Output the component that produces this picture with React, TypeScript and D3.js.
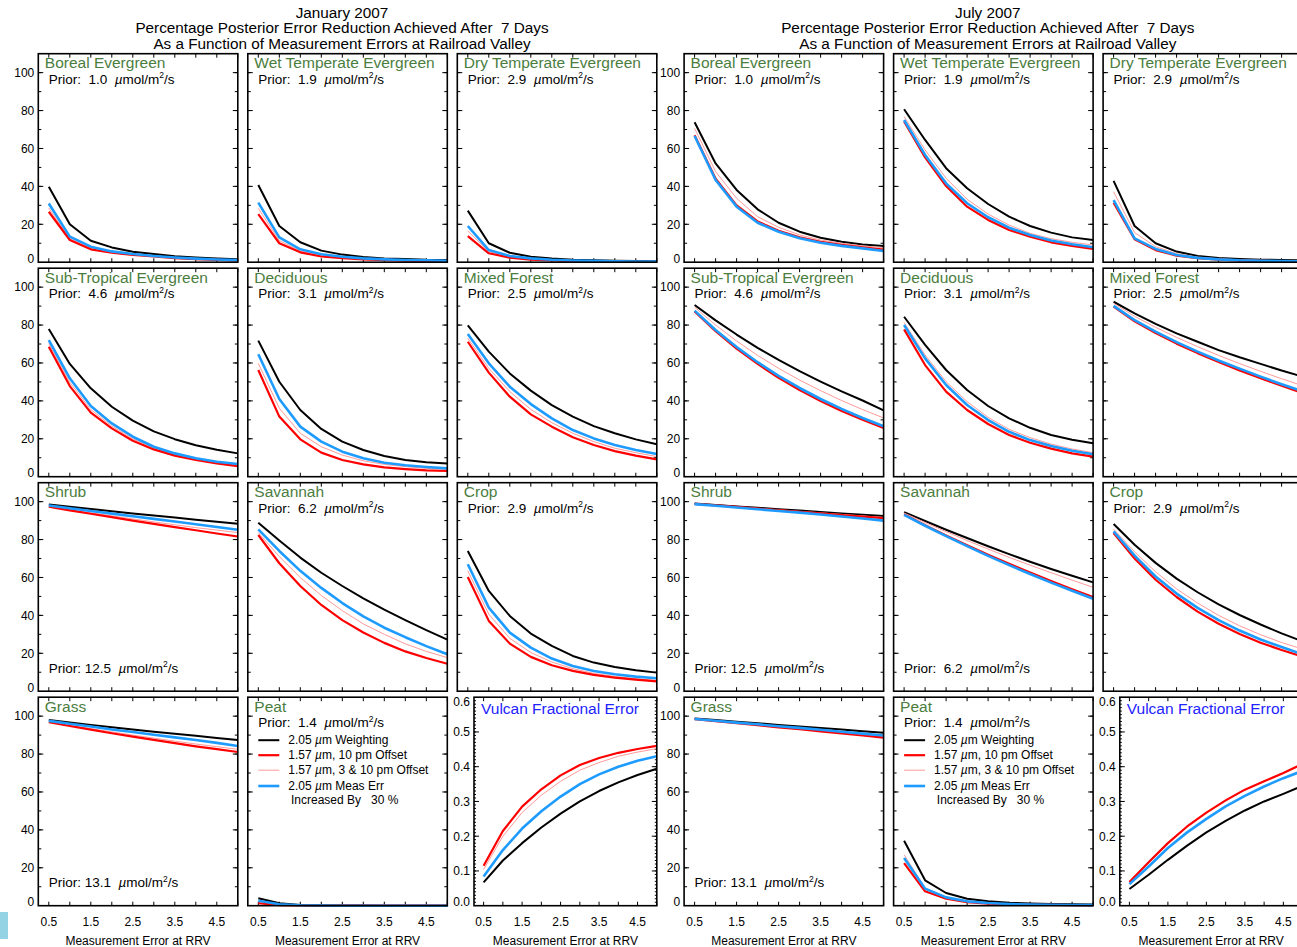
import React from 'react';
import * as d3 from 'd3';

// ---------- data ----------
const X_VALUES = [0.5, 1.0, 1.5, 2.0, 2.5, 3.0, 3.5, 4.0, 4.5, 5.0];
const X_TICK_LABELS = [0.5, 1.5, 2.5, 3.5, 4.5];
const X_TICKS = [0.5, 1.0, 1.5, 2.0, 2.5, 3.0, 3.5, 4.0, 4.5, 5.0];
const PCT_LABEL_TICKS = [0, 20, 40, 60, 80, 100];
const FRAC_LABEL_TICKS = [0, 0.1, 0.2, 0.3, 0.4, 0.5, 0.6];

const SERIES_NAMES = ['2.05 \u00b5m Weighting', '1.57 \u00b5m, 10 pm Offset', '1.57 \u00b5m, 3 & 10 pm Offset', '2.05 \u00b5m Meas Err'];
const SERIES_COLORS = ['#000000', '#ff0000', '#ff9a9a', '#1e9bff'];
const SERIES_WIDTHS = [2, 2.2, 1, 2.6];
const DRAW_ORDER = [0, 2, 1, 3];

const MONTH_TITLES = ['January 2007', 'July 2007'];
const SUBTITLE_1 = 'Percentage Posterior Error Reduction Achieved After\u00a0 7 Days';
const SUBTITLE_2 = 'As a Function of Measurement Errors at Railroad Valley';

const PANEL_NAMES = ['Boreal Evergreen', 'Wet Temperate Evergreen', 'Dry Temperate Evergreen', 'Sub-Tropical Evergreen', 'Deciduous', 'Mixed Forest', 'Shrub', 'Savannah', 'Crop', 'Grass', 'Peat'];
const PRIORS = [1.0, 1.9, 2.9, 4.6, 3.1, 2.5, 12.5, 6.2, 2.9, 13.1, 1.4];
const PRIOR_BOTTOM_JAN = [false, false, false, false, false, false, true, false, false, true, false];
const PRIOR_BOTTOM_JUL = [false, false, false, false, false, false, true, true, false, true, false];

// series order: [2.05 weighting (black), 1.57 10pm (red), 1.57 3&10pm (pink), 2.05 meas err +30% (blue)]
const janBoreal = [
  [39.8, 20.0, 11.3, 7.8, 5.5, 4.3, 3.2, 2.5, 2.0, 1.6],
  [26.6, 11.7, 6.8, 5.0, 3.8, 3.0, 2.2, 1.6, 1.2, 0.9],
  [28.6, 12.5, 7.4, 5.3, 4.0, 3.1, 2.3, 1.7, 1.3, 1.0],
  [31.0, 13.5, 8.2, 5.7, 4.3, 3.3, 2.5, 1.9, 1.4, 1.1],
];
const janWetTemp = [
  [40.7, 19.1, 10.5, 6.1, 4.0, 2.7, 2.0, 1.7, 1.3, 1.2],
  [25.4, 10.0, 5.2, 3.0, 2.1, 1.5, 1.1, 0.8, 0.6, 0.5],
  [28.4, 11.4, 5.9, 3.6, 2.5, 1.7, 1.3, 1.0, 0.8, 0.7],
  [31.4, 13.1, 6.8, 4.2, 2.9, 2.0, 1.5, 1.2, 1.0, 0.8],
];
const janDryTemp = [
  [27.2, 10.0, 5.0, 2.9, 1.9, 1.3, 1.0, 0.8, 0.6, 0.5],
  [13.8, 4.7, 2.4, 1.4, 0.9, 0.6, 0.4, 0.3, 0.2, 0.2],
  [16.5, 5.6, 2.8, 1.6, 1.0, 0.7, 0.5, 0.4, 0.3, 0.2],
  [19.1, 6.4, 3.3, 2.0, 1.3, 0.9, 0.7, 0.5, 0.4, 0.3],
];
const janSubTrop = [
  [77.9, 59.5, 46.6, 36.9, 29.6, 23.9, 19.8, 16.6, 14.2, 12.3],
  [68.6, 47.8, 33.8, 25.5, 19.0, 14.4, 11.1, 8.8, 7.0, 5.6],
  [70.3, 49.8, 35.4, 26.7, 20.0, 15.2, 11.7, 9.3, 7.4, 6.0],
  [72.1, 51.9, 37.3, 28.1, 21.1, 15.8, 12.3, 9.7, 7.9, 6.7],
];
const janDeciduous = [
  [71.8, 50.1, 35.2, 25.2, 18.5, 14.1, 10.9, 8.8, 7.6, 6.9],
  [56.3, 31.7, 19.7, 12.7, 8.8, 6.5, 4.9, 4.0, 3.3, 3.0],
  [59.8, 36.1, 22.9, 15.8, 11.4, 8.4, 6.5, 5.3, 4.4, 3.9],
  [64.6, 41.0, 26.4, 18.5, 13.2, 9.7, 7.4, 6.0, 5.1, 4.4],
];
const janMixed = [
  [79.9, 66.0, 54.5, 45.4, 37.8, 31.7, 26.7, 22.9, 19.7, 17.1],
  [71.2, 54.9, 42.2, 32.9, 26.4, 20.8, 16.7, 13.5, 11.1, 9.1],
  [73.0, 57.2, 44.9, 35.5, 28.5, 22.9, 18.5, 15.0, 12.7, 10.6],
  [75.3, 59.8, 47.5, 38.3, 30.8, 24.6, 20.2, 16.7, 14.1, 12.0],
];
const janShrub = [
  [98.5, 97.3, 96.1, 95.0, 93.8, 92.7, 91.6, 90.5, 89.4, 88.4],
  [97.3, 95.4, 93.6, 91.8, 90.0, 88.3, 86.6, 84.9, 83.2, 81.6],
  [97.5, 95.8, 94.1, 92.5, 90.9, 89.3, 87.8, 86.3, 85.0, 83.7],
  [98.0, 96.5, 95.1, 93.7, 92.3, 90.9, 89.5, 88.1, 86.6, 85.2],
];
const janSavannah = [
  [88.9, 79.5, 70.5, 62.5, 55.5, 49.0, 43.0, 37.5, 32.2, 27.2],
  [82.4, 67.5, 55.5, 45.5, 37.5, 31.0, 25.5, 21.0, 17.5, 14.5],
  [83.7, 71.0, 60.0, 50.5, 42.5, 35.5, 30.0, 25.0, 21.0, 17.7],
  [85.4, 74.0, 63.5, 54.5, 46.5, 39.5, 33.5, 28.5, 23.8, 19.5],
];
const janCrop = [
  [74.0, 52.9, 39.7, 30.4, 23.9, 18.6, 15.1, 12.8, 11.0, 9.8],
  [60.3, 37.1, 25.1, 18.1, 13.7, 10.7, 8.6, 7.2, 6.1, 5.2],
  [63.5, 40.6, 27.9, 20.4, 15.4, 11.9, 9.4, 7.8, 6.6, 5.7],
  [67.0, 44.1, 30.9, 23.0, 17.2, 13.3, 10.7, 8.9, 7.7, 6.8],
];
const janGrass = [
  [98.0, 96.7, 95.4, 94.2, 93.0, 91.8, 90.7, 89.6, 88.5, 87.4],
  [96.8, 94.8, 92.9, 91.0, 89.2, 87.5, 85.8, 84.1, 82.6, 81.1],
  [97.0, 95.2, 93.4, 91.7, 90.0, 88.4, 86.8, 85.3, 83.9, 82.5],
  [97.5, 96.0, 94.5, 93.0, 91.6, 90.2, 88.8, 87.4, 85.9, 84.3],
];
const janPeat = [
  [3.9, 1.3, 0.4, 0.2, 0.1, 0.1, 0.0, 0.0, 0.0, 0.0],
  [1.3, 0.3, 0.1, 0.0, 0.0, 0.0, 0.0, 0.0, 0.0, 0.0],
  [2.0, 0.5, 0.1, 0.0, 0.0, 0.0, 0.0, 0.0, 0.0, 0.0],
  [2.6, 0.8, 0.2, 0.1, 0.0, 0.0, 0.0, 0.0, 0.0, 0.0],
];
const janVulcan = [
  [0.067, 0.130, 0.180, 0.225, 0.265, 0.300, 0.330, 0.355, 0.376, 0.394],
  [0.115, 0.215, 0.285, 0.335, 0.375, 0.405, 0.425, 0.440, 0.451, 0.460],
  [0.104, 0.200, 0.268, 0.318, 0.358, 0.390, 0.412, 0.430, 0.442, 0.452],
  [0.084, 0.160, 0.222, 0.272, 0.314, 0.350, 0.378, 0.400, 0.417, 0.430],
];

const julBoreal = [
  [73.8, 52.1, 38.1, 27.9, 20.8, 16.1, 12.9, 10.8, 9.4, 8.5],
  [67.0, 44.0, 30.0, 21.5, 16.6, 13.1, 10.8, 9.1, 7.8, 6.7],
  [70.6, 47.8, 33.7, 24.0, 18.4, 14.4, 11.7, 10.0, 8.6, 7.7],
  [66.6, 43.4, 29.3, 20.8, 16.1, 12.6, 10.3, 8.6, 7.3, 5.9],
];
const julWetTemp = [
  [80.7, 64.5, 49.6, 39.0, 30.7, 24.0, 19.1, 15.6, 13.1, 11.7],
  [74.2, 55.3, 40.2, 29.3, 22.3, 17.0, 13.5, 10.5, 8.6, 7.0],
  [76.8, 59.2, 44.3, 33.2, 25.4, 19.6, 15.2, 12.4, 10.5, 9.1],
  [75.0, 56.6, 41.6, 31.1, 23.7, 18.2, 14.4, 11.4, 9.5, 7.9],
];
const julDryTemp = [
  [42.9, 19.1, 10.0, 5.6, 3.3, 2.2, 1.7, 1.3, 1.2, 1.0],
  [31.4, 12.1, 6.4, 3.5, 2.1, 1.4, 0.9, 0.7, 0.5, 0.4],
  [37.2, 15.6, 8.2, 4.5, 2.7, 1.8, 1.3, 1.0, 0.8, 0.7],
  [32.8, 12.6, 7.0, 3.8, 2.3, 1.5, 1.0, 0.8, 0.6, 0.5],
];
const julSubTrop = [
  [90.6, 82.5, 75.0, 68.0, 61.6, 55.7, 50.2, 45.0, 40.2, 35.0],
  [87.2, 76.8, 67.6, 59.5, 52.2, 45.7, 39.9, 34.7, 30.0, 25.7],
  [89.4, 80.0, 71.6, 64.0, 57.2, 51.0, 45.4, 40.2, 35.4, 31.0],
  [87.6, 77.4, 68.4, 60.4, 53.2, 46.8, 41.0, 35.8, 31.0, 26.6],
];
const julDeciduous = [
  [84.4, 69.5, 56.3, 45.7, 37.3, 30.8, 25.8, 22.0, 19.5, 17.6],
  [77.7, 58.9, 44.9, 35.2, 27.8, 22.0, 17.9, 14.8, 12.3, 10.6],
  [81.3, 64.2, 50.1, 39.6, 31.3, 25.0, 20.6, 17.2, 14.6, 12.7],
  [80.0, 62.4, 48.4, 37.8, 29.9, 23.7, 19.3, 16.2, 13.7, 11.8],
];
const julMixed = [
  [92.3, 86.2, 80.6, 75.6, 71.2, 66.8, 63.0, 59.5, 56.0, 52.8],
  [89.8, 82.0, 75.8, 70.2, 65.2, 60.5, 56.1, 52.0, 48.0, 44.2],
  [91.5, 84.6, 78.8, 73.5, 68.6, 64.0, 59.7, 55.6, 51.7, 48.0],
  [90.1, 82.6, 76.5, 71.0, 66.0, 61.3, 57.0, 52.8, 48.8, 45.0],
];
const julShrub = [
  [99.0, 98.3, 97.5, 96.8, 96.0, 95.3, 94.5, 93.8, 93.1, 92.4],
  [98.8, 98.0, 97.2, 96.3, 95.5, 94.6, 93.8, 92.9, 92.1, 91.3],
  [98.9, 98.1, 97.3, 96.5, 95.7, 94.9, 94.1, 93.3, 92.5, 91.7],
  [98.7, 97.8, 96.9, 96.0, 95.1, 94.2, 93.2, 92.2, 91.1, 90.0],
];
const julSavannah = [
  [94.5, 89.8, 85.2, 80.8, 76.5, 72.3, 68.3, 64.5, 60.9, 57.4],
  [93.3, 87.6, 82.2, 77.0, 72.0, 67.2, 62.6, 58.1, 53.8, 49.7],
  [94.0, 89.0, 84.2, 79.5, 75.0, 70.6, 66.5, 62.5, 58.6, 54.8],
  [93.0, 87.3, 81.8, 76.5, 71.4, 66.5, 61.8, 57.3, 53.0, 48.8],
];
const julCrop = [
  [88.2, 77.3, 67.7, 59.4, 52.2, 45.8, 40.2, 35.2, 30.5, 26.3],
  [83.5, 70.0, 58.8, 49.7, 42.0, 35.6, 30.2, 25.6, 21.7, 18.3],
  [85.5, 73.5, 63.0, 54.0, 46.5, 40.0, 34.5, 29.8, 25.7, 22.2],
  [84.3, 71.5, 60.5, 51.5, 44.0, 37.5, 32.0, 27.3, 23.3, 19.5],
];
const julGrass = [
  [98.8, 98.0, 97.1, 96.3, 95.4, 94.6, 93.7, 92.9, 92.0, 91.2],
  [98.4, 97.4, 96.3, 95.2, 94.1, 93.1, 92.0, 90.9, 89.8, 88.7],
  [98.5, 97.5, 96.4, 95.4, 94.3, 93.3, 92.2, 91.2, 90.1, 89.1],
  [98.5, 97.6, 96.6, 95.7, 94.7, 93.8, 92.8, 91.8, 90.8, 89.8],
];
const julPeat = [
  [34.3, 13.4, 6.7, 3.7, 2.3, 1.6, 1.2, 0.9, 0.7, 0.6],
  [22.5, 7.6, 3.7, 1.9, 1.1, 0.7, 0.5, 0.4, 0.3, 0.2],
  [26.9, 9.3, 4.6, 2.4, 1.4, 0.9, 0.6, 0.5, 0.4, 0.3],
  [25.2, 9.0, 4.4, 2.3, 1.4, 0.9, 0.6, 0.5, 0.4, 0.3],
];
const julVulcan = [
  [0.048, 0.089, 0.132, 0.173, 0.211, 0.244, 0.274, 0.300, 0.322, 0.345],
  [0.068, 0.125, 0.180, 0.228, 0.268, 0.303, 0.334, 0.358, 0.382, 0.408],
  [0.067, 0.124, 0.179, 0.227, 0.267, 0.302, 0.333, 0.357, 0.381, 0.406],
  [0.062, 0.113, 0.166, 0.211, 0.250, 0.286, 0.316, 0.343, 0.367, 0.388],
];

const JAN_PANELS = [janBoreal, janWetTemp, janDryTemp, janSubTrop, janDeciduous, janMixed, janShrub, janSavannah, janCrop, janGrass, janPeat];
const JUL_PANELS = [julBoreal, julWetTemp, julDryTemp, julSubTrop, julDeciduous, julMixed, julShrub, julSavannah, julCrop, julGrass, julPeat];

// ---------- layout ----------
const W = 1297;
const H = 947;
const BLOCK_X = [0, 645.8];
const COL_X = [38.3, 247.8, 457.3];
const PANEL_W = 199.5;
const ROW_BOTTOM = [262.2, 476.7, 691.2, 905.7];
const PANEL_H = 208.5;
const VULCAN_X = 474;
const VULCAN_W = 182.8;
const TITLE_CX = 342;
const FONT = '"Liberation Sans", Arial, Helvetica, sans-serif';
const GREEN = '#4b7d3e';
const VBLUE = '#2323ff';

type PanelProps = {
  left: number;
  bottom: number;
  width: number;
  yMax: number;
  majorStep: number;
  minorStep: number;
  minorLen: number;
  labelTicks: number[];
  labelFmt: (v: number) => string;
  showYLabels: boolean;
  showXLabels: boolean;
  data: number[][];
  children?: React.ReactNode;
};

function Panel(p: PanelProps) {
  const x = d3.scaleLinear().domain([0.25, 5.0]).range([p.left, p.left + p.width]);
  const y = d3.scaleLinear().domain([0, p.yMax]).range([p.bottom, p.bottom - PANEL_H]);
  const top = p.bottom - PANEL_H;
  const right = p.left + p.width;
  const line = d3
    .line<number>()
    .x((_, i) => x(X_VALUES[i]))
    .y((d) => y(d));
  const nMinor = Math.round(p.yMax / p.minorStep);
  const minorVals = d3.range(1, nMinor).map((i) => i * p.minorStep);
  const nMajor = Math.floor(p.yMax / p.majorStep + 1e-6);
  const majorVals = d3.range(1, nMajor + 1).map((i) => i * p.majorStep).filter((v) => v < p.yMax - 1e-6);
  return (
    <g>
      {minorVals.map((v, i) => (
        <g key={'mn' + i}>
          <line x1={p.left} x2={p.left + p.minorLen} y1={y(v)} y2={y(v)} stroke="#000" strokeWidth={1} />
          <line x1={right} x2={right - p.minorLen} y1={y(v)} y2={y(v)} stroke="#000" strokeWidth={1} />
        </g>
      ))}
      {majorVals.map((v, i) => (
        <g key={'mj' + i}>
          <line x1={p.left} x2={p.left + 5} y1={y(v)} y2={y(v)} stroke="#000" strokeWidth={1} />
          <line x1={right} x2={right - 5} y1={y(v)} y2={y(v)} stroke="#000" strokeWidth={1} />
        </g>
      ))}
      {X_TICKS.map((v, i) => (
        <g key={'xt' + i}>
          <line x1={x(v)} x2={x(v)} y1={p.bottom} y2={p.bottom - 4} stroke="#000" strokeWidth={1} />
          <line x1={x(v)} x2={x(v)} y1={top} y2={top + 4} stroke="#000" strokeWidth={1} />
        </g>
      ))}
      {DRAW_ORDER.map((si) => (
        <path key={'s' + si} d={line(p.data[si]) || ''} fill="none" stroke={SERIES_COLORS[si]} strokeWidth={SERIES_WIDTHS[si]} strokeLinejoin="round" />
      ))}
      <rect x={p.left} y={top} width={p.width} height={PANEL_H} fill="none" stroke="#000" strokeWidth={1.6} />
      {p.showYLabels &&
        p.labelTicks.map((v, i) => {
          let yy = y(v);
          if (yy > p.bottom - 4) yy = p.bottom - 4;
          if (yy < top + 4.5) yy = top + 4.5;
          return (
            <text key={'yl' + i} x={p.left - 4} y={yy} dy="0.36em" textAnchor="end" fontSize={12} fontFamily={FONT} fill="#000">
              {p.labelFmt(v)}
            </text>
          );
        })}
      {p.showXLabels && (
        <g>
          {X_TICK_LABELS.map((v, i) => (
            <text key={'xl' + i} x={x(v)} y={926} textAnchor="middle" fontSize={12} fontFamily={FONT} fill="#000">
              {v.toFixed(1)}
            </text>
          ))}
          <text x={(p.left + right) / 2} y={944.5} textAnchor="middle" fontSize={12} fontFamily={FONT} fill="#000">
            Measurement Error at RRV
          </text>
        </g>
      )}
      {p.children}
    </g>
  );
}

function PriorText({ x, y, prior }: { x: number; y: number; prior: number }) {
  const num = (prior < 10 ? '\u00a0' : '') + prior.toFixed(1);
  return (
    <text x={x} y={y} fontSize={13.5} fontFamily={FONT} fill="#000">
      {'Prior:\u00a0' + num + '\u00a0\u00a0'}
      <tspan fontStyle="italic">{'\u00b5'}</tspan>
      {'mol/m'}
      <tspan dy={-5.5} fontSize={8.5}>2</tspan>
      <tspan dy={5.5}>/s</tspan>
    </text>
  );
}

function Legend({ left, top }: { left: number; top: number }) {
  const rows = [47, 62, 77, 92.8];
  return (
    <g>
      {SERIES_NAMES.map((name, i) => {
        const parts = name.split('\u00b5');
        return (
          <g key={'lg' + i}>
            <line x1={left + 10.5} x2={left + 31.5} y1={top + rows[i] - 4} y2={top + rows[i] - 4} stroke={SERIES_COLORS[i]} strokeWidth={SERIES_WIDTHS[i]} />
            <text x={left + 40.5} y={top + rows[i]} fontSize={12} fontFamily={FONT} fill="#000">
              {parts[0]}
              <tspan fontStyle="italic">{'\u00b5'}</tspan>
              {parts[1]}
            </text>
          </g>
        );
      })}
      <text x={left + 43.2} y={top + 106.4} fontSize={12} fontFamily={FONT} fill="#000">
        {'Increased By\u00a0\u00a0 30 %'}
      </text>
    </g>
  );
}

function MonthBlock({ bx, month, panels, priorBottom, vulcan }: { bx: number; month: string; panels: number[][][]; priorBottom: boolean[]; vulcan: number[][] }) {
  return (
    <g>
      <text x={bx + TITLE_CX} y={17.5} textAnchor="middle" fontSize={15.3} fontFamily={FONT} fill="#000">{month}</text>
      <text x={bx + TITLE_CX} y={33} textAnchor="middle" fontSize={15.3} fontFamily={FONT} fill="#000">{SUBTITLE_1}</text>
      <text x={bx + TITLE_CX} y={48.5} textAnchor="middle" fontSize={15.3} fontFamily={FONT} fill="#000">{SUBTITLE_2}</text>
      {panels.map((data, k) => {
        const row = Math.floor(k / 3);
        const col = k % 3;
        const left = bx + COL_X[col];
        const bottom = ROW_BOTTOM[row];
        const top = bottom - PANEL_H;
        return (
          <Panel
            key={'p' + k}
            left={left}
            bottom={bottom}
            width={PANEL_W}
            yMax={110}
            majorStep={20}
            minorStep={10}
            minorLen={3}
            labelTicks={PCT_LABEL_TICKS}
            labelFmt={(v) => String(v)}
            showYLabels={col === 0}
            showXLabels={row === 3}
            data={data}
          >
            <text x={left + 6.5} y={top + 14.5} fontSize={15.5} fontFamily={FONT} fill={GREEN}>{PANEL_NAMES[k]}</text>
            {priorBottom[k] ? (
              <PriorText x={left + 10.5} y={bottom - 18.3} prior={PRIORS[k]} />
            ) : (
              <PriorText x={left + 10.5} y={top + 30} prior={PRIORS[k]} />
            )}
            {k === 10 && <Legend left={left} top={top} />}
          </Panel>
        );
      })}
      <Panel
        left={bx + VULCAN_X}
        bottom={ROW_BOTTOM[3]}
        width={VULCAN_W}
        yMax={0.6}
        majorStep={0.1}
        minorStep={0.01}
        minorLen={2}
        labelTicks={FRAC_LABEL_TICKS}
        labelFmt={(v) => v.toFixed(1)}
        showYLabels={true}
        showXLabels={true}
        data={vulcan}
      >
        <text x={bx + VULCAN_X + 7} y={ROW_BOTTOM[3] - PANEL_H + 17} fontSize={15.5} fontFamily={FONT} fill={VBLUE}>Vulcan Fractional Error</text>
      </Panel>
    </g>
  );
}

export default function App() {
  return (
    <svg width={W} height={H} viewBox={`0 0 ${W} ${H}`} style={{ position: 'absolute', left: 0, top: 0, display: 'block' }}>
      <rect x={0} y={0} width={W} height={H} fill="#ffffff" />
      <MonthBlock bx={BLOCK_X[0]} month={MONTH_TITLES[0]} panels={JAN_PANELS} priorBottom={PRIOR_BOTTOM_JAN} vulcan={janVulcan} />
      <MonthBlock bx={BLOCK_X[1]} month={MONTH_TITLES[1]} panels={JUL_PANELS} priorBottom={PRIOR_BOTTOM_JUL} vulcan={julVulcan} />
      <rect x={0} y={912} width={8} height={27} fill="#94d3e3" />
    </svg>
  );
}
